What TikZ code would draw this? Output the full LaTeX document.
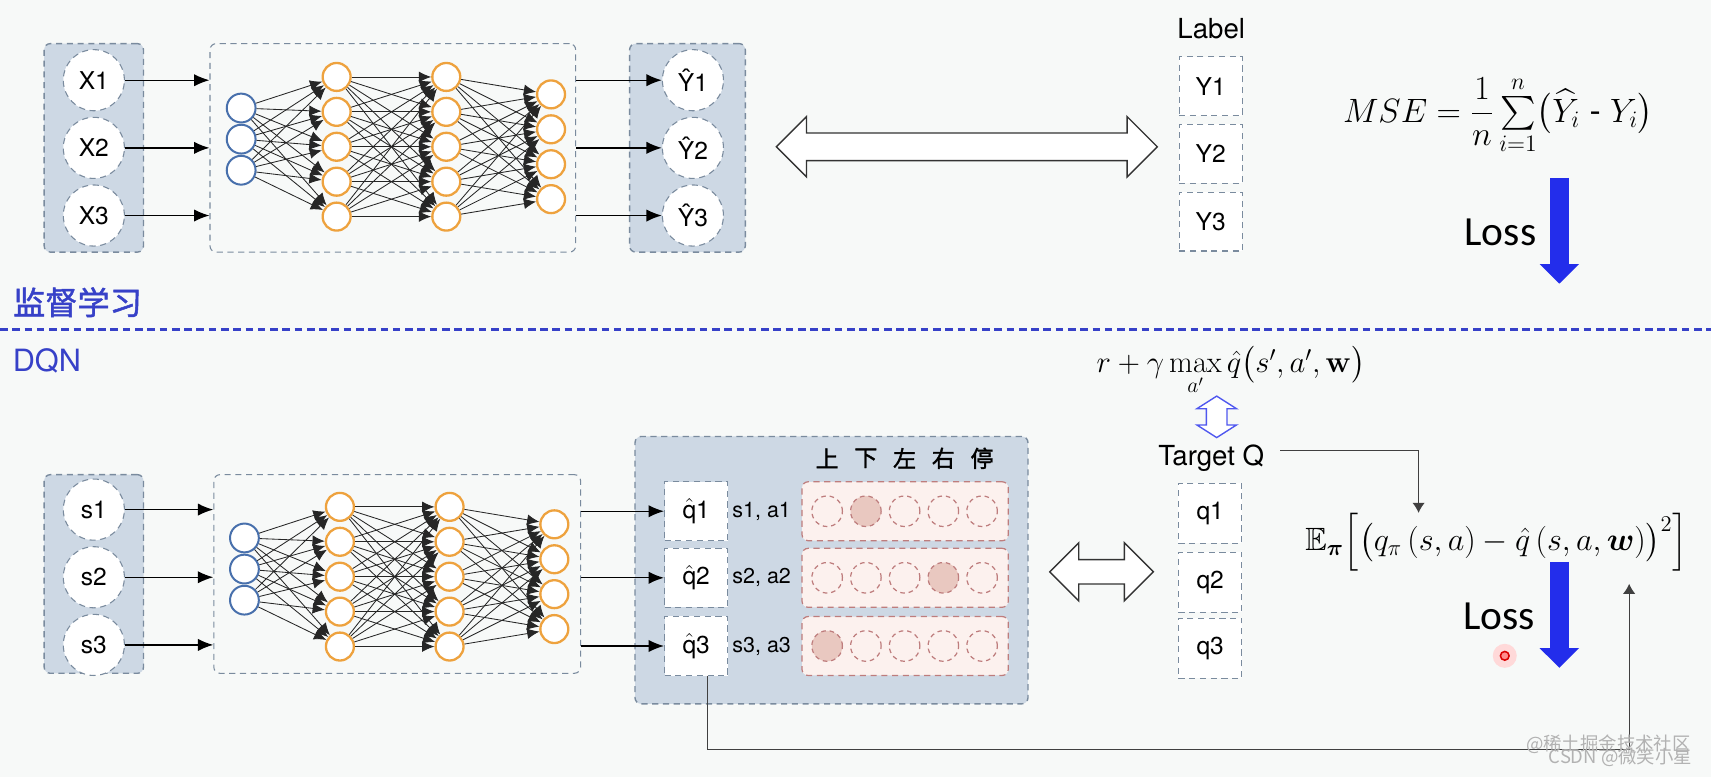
\documentclass[tikz,border=0pt]{standalone}
\usepackage{fix-cm}
\usepackage{amsmath,amssymb,bm}
\usepackage[no-math]{fontspec}
\setmainfont{TeX Gyre Heros}
\newfontfamily\cjk{Noto Sans CJK SC}
\newfontfamily\cjkb{Noto Sans CJK SC}[FakeBold=1.5]
\newfontfamily\calib{Carlito}
\usetikzlibrary{arrows.meta,shapes.arrows,calc}

\definecolor{bgcol}{RGB}{247,249,248}
\definecolor{panelfill}{RGB}{205,216,228}
\definecolor{panelline}{RGB}{122,139,158}
\definecolor{nnblue}{RGB}{72,112,172}
\definecolor{nnorange}{RGB}{238,162,62}
\definecolor{lossblue}{RGB}{35,45,235}
\definecolor{titleblue}{RGB}{55,65,200}
\definecolor{actred}{RGB}{190,125,125}
\definecolor{actfill}{RGB}{252,241,238}
\definecolor{actpick}{RGB}{233,200,192}

\newcommand{\fs}[1]{\fontsize{#1}{#1}\selectfont}

% fully connected net, #1 = name prefix, #2 = vertical offset
\newcommand{\nnet}[2]{%
  \begin{scope}[shift={(0,#2)}]
    \foreach \i in {1,2,3}
      \node[blueunit] (#1a\i) at (221,{70.5+28.5*\i}) {};
    \foreach \i in {1,...,5} {
      \node[orangeunit] (#1b\i) at (308.5,{38.5+32*\i}) {};
      \node[orangeunit] (#1c\i) at (409,{38.5+32*\i}) {};
    }
    \foreach \i in {1,...,4}
      \node[orangeunit] (#1d\i) at (505,{54.5+32*\i}) {};
    \foreach \i in {1,2,3} \foreach \j in {1,...,5}
      \draw[wire] (#1a\i) -- (#1b\j);
    \foreach \i in {1,...,5} \foreach \j in {1,...,5}
      \draw[wire] (#1b\i) -- (#1c\j);
    \foreach \i in {1,...,5} \foreach \j in {1,...,4}
      \draw[wire] (#1c\i) -- (#1d\j);
  \end{scope}}

\begin{document}
\begin{tikzpicture}[x=0.025cm,y=-0.025cm,
  panel/.style={draw=panelline, fill=panelfill, dash pattern=on 4pt off 3pt, line width=0.9pt, rounded corners=4pt, inner sep=0pt},
  netbox/.style={draw=panelline, dash pattern=on 4pt off 3pt, line width=0.7pt, rounded corners=4pt, inner sep=0pt},
  var/.style={circle, draw=panelline, fill=white, dash pattern=on 4pt off 3pt, line width=0.7pt, minimum size=1.4cm, inner sep=0pt, font=\fs{16}},
  cell/.style={rectangle, draw=panelline, fill=white, dash pattern=on 4pt off 3pt, line width=0.7pt, minimum width=1.45cm, minimum height=1.36cm, inner sep=0pt, font=\fs{16}},
  blueunit/.style={circle, draw=nnblue, fill=white, line width=1.3pt, minimum size=0.66cm, inner sep=0pt},
  orangeunit/.style={circle, draw=nnorange, fill=white, line width=1.5pt, minimum size=0.64cm, inner sep=0pt},
  wire/.style={-{Latex[length=8pt,width=7pt]}, draw=black!85, line width=0.55pt},
  feed/.style={-{Latex[length=10pt,width=8pt]}, line width=0.9pt},
  thinarr/.style={-{Latex[length=6.5pt,width=8pt]}, draw=black!75, line width=0.7pt},
  actbox/.style={rectangle, draw=actred, fill=actfill, dash pattern=on 4pt off 3pt, line width=0.8pt, rounded corners=4pt, minimum width=4.725cm, minimum height=1.35cm},
  actunit/.style={circle, draw=actred, dash pattern=on 3pt off 2.5pt, line width=0.8pt, minimum size=0.7cm, inner sep=0pt},
  hollow/.style={double arrow, draw=black!80, fill=white, line width=0.9pt, inner xsep=0pt, double arrow head indent=0pt},
  lossarr/.style={draw=lossblue, line width=0.425cm, -{Triangle[length=0.45cm,width=0.875cm]}},
  title/.style={text=titleblue, inner sep=0pt}]

\useasboundingbox (0,0) rectangle (1568,712);
\fill[bgcol] (0,0) rectangle (1568,712);

% supervised learning
\node[panel, minimum width=2.275cm, minimum height=4.775cm] (tin) at (86,135.5) {};
\node[var] (x1) at (86,73.5) {X1};
\node[var] (x2) at (86,135.5) {X2};
\node[var] (x3) at (86,197.5) {X3};
\node[netbox, minimum width=8.375cm, minimum height=4.775cm] (tnet) at (360,135.5) {};
\nnet{t}{0}
\node[panel, minimum width=2.65cm, minimum height=4.775cm] (tout) at (630,135.5) {};
\node[var] (yh1) at (635,73.5) {Ŷ1};
\node[var] (yh2) at (635,135.5) {Ŷ2};
\node[var] (yh3) at (635,197.5) {Ŷ3};
\foreach \k in {1,2,3} {
  \draw[feed] (x\k) -- (x\k -| tnet.west);
  \draw[feed] (tnet.east |- yh\k) -- (yh\k);
}
\node[hollow, minimum height=8.725cm, minimum width=1.35cm, inner ysep=0.3cm, double arrow head extend=0.375cm] (cmp1) at (886,134.5) {};

\node[font=\fs{18}] (lbl) at (1110,26) {Label};
\node[cell, minimum height=1.35cm] (y1) at (1109.5,79) {Y1};
\node[cell, minimum height=1.35cm] (y2) at (1109.5,141) {Y2};
\node[cell, minimum height=1.35cm] (y3) at (1109.5,203) {Y3};

\node[font=\fs{22}] (mse) at (1373,106) {$MSE=\dfrac{1}{n}\sum\limits_{i=1}^{n}\bigl(\widehat{Y}_{i}\ \mbox{-}\ Y_{i}\bigr)$};
\node[font=\calib\fs{27}] (loss1) at (1375,213) {Loss};
\coordinate (l1s) at (1429,163);
\coordinate (l1e) at (1429,260);
\draw[lossarr] (l1s) -- (l1e);

\node[title, font=\cjkb\fs{21}] (sup) at (71,277) {监督学习};
\draw[titleblue, line width=1.5pt, dash pattern=on 5pt off 3pt] (0,302) -- (1568,302);
\node[title, font=\fs{20}] (dqn) at (43,331) {DQN};

% DQN
\node[panel, minimum width=2.275cm, minimum height=4.55cm] (bin) at (86,526) {};
\node[var] (s1) at (86,467) {s1};
\node[var] (s2) at (86,529) {s2};
\node[var] (s3) at (86,591) {s3};
\node[netbox, minimum width=8.4cm, minimum height=4.55cm] (bnet) at (364,526) {};
\begin{scope}[shift={(3,0)}]
\nnet{b}{394}
\end{scope}
\node[panel, minimum width=9cm, minimum height=6.125cm] (qbox) at (762,522.5) {};
\foreach \k/\c in {1/上,2/下,3/左,4/右,5/停}
  \node[font=\cjkb\fs{15}] (h\k) at ({722.5+35.5*\k},420) {\c};
\foreach \r/\y/\p in {1/468.5/2,2/529.5/4,3/592/1} {
  \node[cell] (qh\r) at (638,\y) {$\hat{\text{q}}$\r};
  \node[font=\fs{14}] (sa\r) at (698,\y) {s\r, a\r};
  \node[actbox] (act\r) at (829.5,\y) {};
  \foreach \k in {1,...,5} {
    \ifnum\k=\p \def\fc{actpick}\else\def\fc{actfill}\fi
    \node[actunit, fill=\fc] (a\r\k) at ({722.5+35.5*\k},\y) {};
  }
}
\foreach \k in {1,2,3} {
  \draw[feed] (s\k) -- (s\k -| bnet.west);
  \draw[feed] (bnet.east |- qh\k) -- (qh\k);
}
\node[hollow, minimum height=2.375cm, minimum width=1.3cm, inner ysep=0.2625cm, double arrow head extend=0.3875cm] (cmp2) at (1009.5,524) {};

\node[font=\fs{20}] (tgt) at (1128,340) {$r+\gamma\max\limits_{a'}\hat{q}\bigl(s',a',\mathbf{w}\bigr)$};
\node[hollow, draw=lossblue!80, rotate=90, minimum height=0.95cm, minimum width=0.875cm, inner ysep=0.22cm, double arrow head extend=0.2175cm, double arrow tip angle=115] (swap) at (1115,382) {};
\node[font=\fs{18}] (tq) at (1110,420) {Target Q};
\node[cell, minimum height=1.375cm] (q1) at (1109,470.5) {q1};
\node[cell, minimum height=1.375cm] (q2) at (1109,533.5) {q2};
\node[cell, minimum height=1.375cm] (q3) at (1109,594) {q3};

\node[font=\fs{21}] (eform) at (1371.5,497) {$\mathbb{E}_{\boldsymbol{\pi}}\Bigl[\bigl(q_{\pi}\,(s,a)-\hat{q}\,(s,a,\boldsymbol{w})\bigr)^{2}\Bigr]$};
\coordinate (qin) at (1300,470);
\draw[thinarr] ([xshift=0.25cm,yshift=5pt]tq.east) -| (qin);

\node[font=\calib\fs{27}] (loss2) at (1374,565) {Loss};
\coordinate (l2s) at (1429,515);
\coordinate (l2e) at (1429,612);
\draw[lossarr] (l2s) -- (l2e);

\coordinate (corner) at (1493,687);
\coordinate (back) at (1493,535);
\draw[thinarr] ([xshift=0.25cm]qh3.south) |- (corner) -- (back);

\node[circle, fill=red!15, minimum size=0.55cm, inner sep=0pt] (laser) at (1379,601) {};
\node[circle, draw=red!85!black, fill=red!45, line width=1pt, minimum size=0.2cm, inner sep=0pt] (laserc) at (laser) {};

\node[font=\cjk\fs{12}, text=gray!60] (wm1) at (1474,682) {@稀土掘金技术社区};
\node[font=\cjk\fs{12}, text=gray!60] (wm2) at (1485,694) {CSDN @微笑小星};
\end{tikzpicture}
\end{document}
